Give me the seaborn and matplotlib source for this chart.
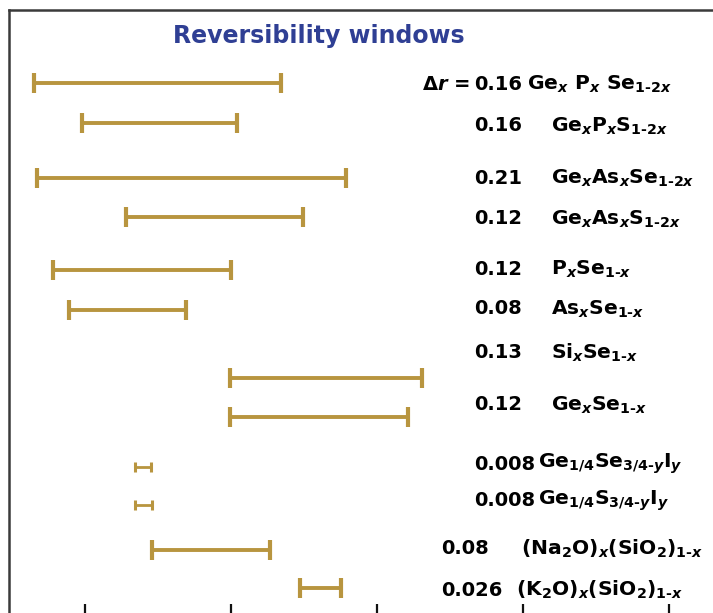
import numpy as np
import pandas as pd
import matplotlib
matplotlib.use("Agg")
import matplotlib.pyplot as plt
import seaborn as sns

# ---------------- data ----------------
systems = [
    "Ge$_x$ P$_x$ Se$_{1\\text{-}2x}$",
    "Ge$_x$P$_x$S$_{1\\text{-}2x}$",
    "Ge$_x$As$_x$Se$_{1\\text{-}2x}$",
    "Ge$_x$As$_x$S$_{1\\text{-}2x}$",
    "P$_x$Se$_{1\\text{-}x}$",
    "As$_x$Se$_{1\\text{-}x}$",
    "Si$_x$Se$_{1\\text{-}x}$",
    "Ge$_x$Se$_{1\\text{-}x}$",
    "Ge$_{1/4}$Se$_{3/4\\text{-}y}$I$_y$",
    "Ge$_{1/4}$S$_{3/4\\text{-}y}$I$_y$",
    "(Na$_2$O)$_x$(SiO$_2$)$_{1\\text{-}x}$",
    "(K$_2$O)$_x$(SiO$_2$)$_{1\\text{-}x}$",
]
delta_r = ["0.16", "0.16", "0.21", "0.12", "0.12", "0.08",
           "0.13", "0.12", "0.008", "0.008", "0.08", "0.026"]
# window edges in mean coordination number r
r_low = [2.265, 2.298, 2.267, 2.328, 2.278, 2.289,
         2.399, 2.399, 2.334, 2.334, 2.346, 2.447]
r_high = [2.434, 2.404, 2.479, 2.449, 2.400, 2.369,
          2.531, 2.521, 2.345, 2.346, 2.427, 2.475]
x_ticks = [2.3, 2.4, 2.5, 2.6, 2.7]

# ---------------- layout (not data) ----------------
bar_rows = [8.27, 12.3, 17.75, 21.7, 27.0, 31.0, 37.75, 41.7, 46.65, 50.45, 55.0, 58.8]
text_rows = [8.4, 12.6, 17.8, 21.9, 26.9, 30.9, 35.3, 40.5, 46.4, 50.1, 54.9, 59.0]
value_px = [474, 474, 474, 474, 474, 474, 474, 474, 474, 474, 441, 441]
name_px = [527, 551, 551, 551, 551, 551, 551, 551, 538, 538, 521, 516]
small = [False] * 8 + [True, True, False, False]

W, H = 713, 613
BAR = "#B8953F"

sns.set_style("white")
plt.rcParams["font.family"] = ["DejaVu Sans"]
plt.rcParams["text.color"] = "black"
plt.rcParams["mathtext.fontset"] = "custom"
plt.rcParams["mathtext.rm"] = "DejaVu Sans:bold"
plt.rcParams["mathtext.it"] = "DejaVu Sans:italic:bold"
plt.rcParams["mathtext.bf"] = "DejaVu Sans:bold"

fig = plt.figure(figsize=(W / 100, H / 100), dpi=100)
left_px, top_px, bot_px = 9, 10, 616
ax = fig.add_axes([left_px / W, 1 - bot_px / H, 1 - left_px / W + 0.02,
                   (bot_px - top_px) / H])

scale = 1460.0  # px per unit r
xmin = 2.4 - (231 - left_px) / scale
ax_w_px = (1 - left_px / W + 0.02) * W
ax.set_xlim(xmin, xmin + ax_w_px / scale)
ax.set_ylim(bot_px / 10, top_px / 10)

df = pd.DataFrame({
    "row": np.repeat(np.arange(len(systems)), 2),
    "r": np.ravel(np.column_stack([r_low, r_high])),
    "y": np.repeat(bar_rows, 2),
    "small": np.repeat(small, 2),
})

big = df[~df["small"]]
sml = df[df["small"]]
sns.lineplot(data=big, x="r", y="y", units="row", estimator=None, sort=False,
             color=BAR, lw=2.8, ax=ax, legend=False)
sns.lineplot(data=sml, x="r", y="y", units="row", estimator=None, sort=False,
             color=BAR, lw=2.0, ax=ax, legend=False)
sns.scatterplot(data=big, x="r", y="y", marker="|", s=200, linewidth=3.0,
                color=BAR, ax=ax, legend=False, zorder=3)
sns.scatterplot(data=sml, x="r", y="y", marker="|", s=60, linewidth=2.2,
                color=BAR, ax=ax, legend=False, zorder=3)

# frame
for side in ["right", "bottom"]:
    ax.spines[side].set_visible(False)
for side in ["left", "top"]:
    ax.spines[side].set_color("#3a3a3a")
    ax.spines[side].set_linewidth(1.8)

ax.set_xticks(x_ticks)
ax.set_yticks([])
ax.tick_params(axis="x", direction="in", length=9, width=1.6, color="#111111",
               labelbottom=False, bottom=True)
ax.set_xlabel("")
ax.set_ylabel("")


def fx(px):
    return px / W


def fy(py10):
    return 1 - py10 * 10 / H


fs = 14
for i in range(len(systems)):
    fig.text(fx(value_px[i]), fy(text_rows[i]), delta_r[i], fontsize=fs,
             fontweight="bold", ha="left", va="center", color="black")
    fig.text(fx(name_px[i]), fy(text_rows[i]), systems[i], fontsize=fs + 0.6,
             fontweight="bold", ha="left", va="center", color="black")
fig.text(fx(470), fy(text_rows[0]), "Δ$r$ =", fontsize=fs, fontweight="bold",
         ha="right", va="center", color="black")

fig.text(fx(319), fy(3.6), "Reversibility windows", fontsize=17,
         fontweight="bold", color="#2F3F94", ha="center", va="center")

fig.savefig("out.png", dpi=100)
